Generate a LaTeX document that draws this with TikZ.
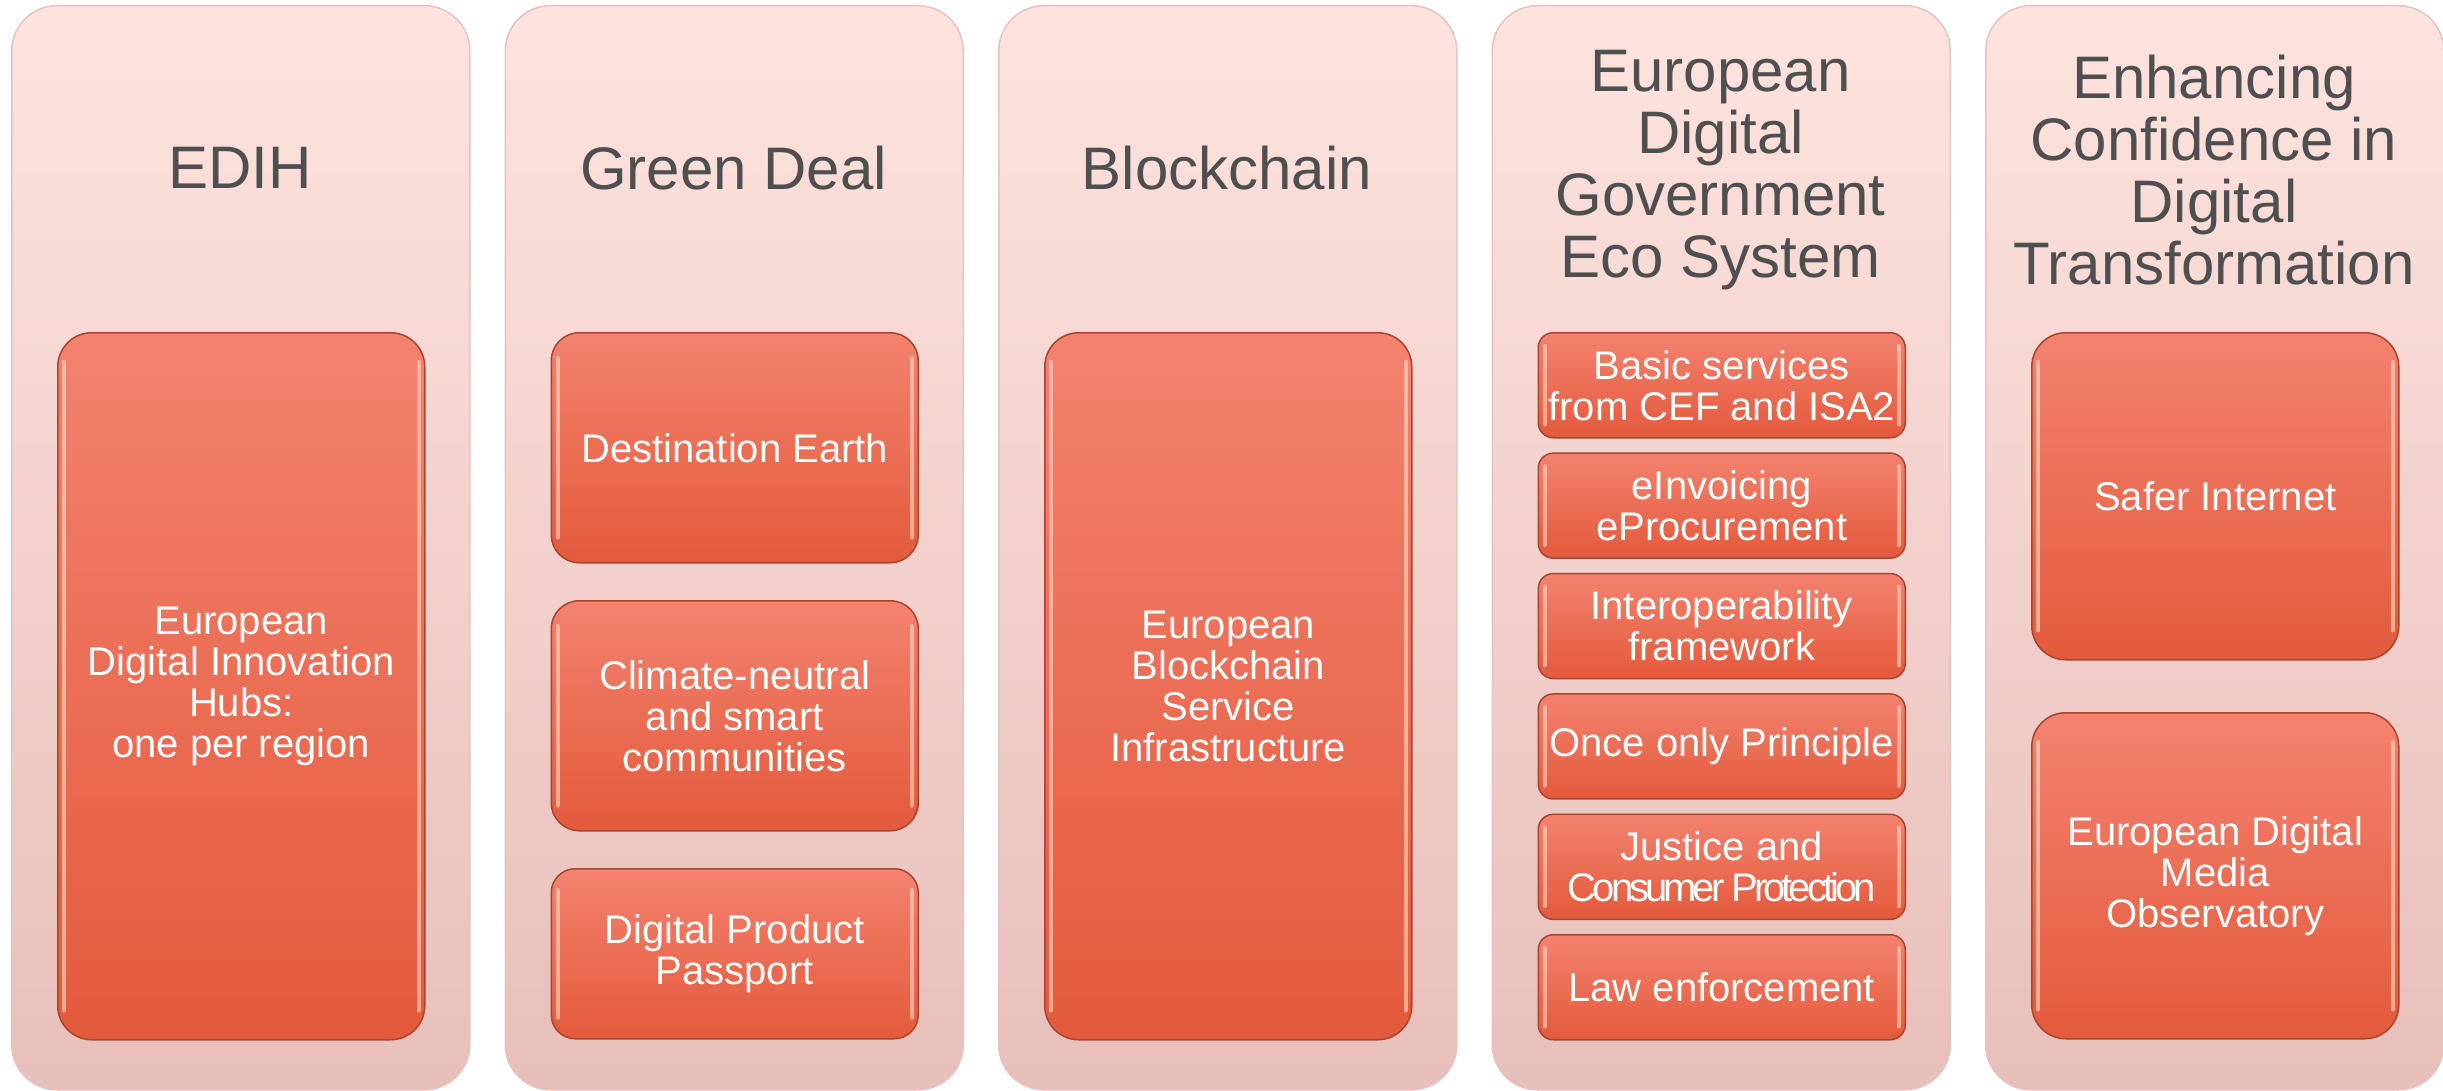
\documentclass[tikz,border=0pt]{standalone}
\usepackage{fontspec}
\setmainfont{Liberation Sans}
\definecolor{colTop}{HTML}{FDE3DF}
\definecolor{colMid}{HTML}{F8D6D1}
\definecolor{colBot}{HTML}{E8BFBA}
\definecolor{colEdge}{HTML}{E6C3BE}
\definecolor{itemTop}{HTML}{F3826F}
\definecolor{itemMid}{HTML}{F56F54}
\definecolor{itemBot}{HTML}{E35A3C}
\definecolor{itemEdge}{HTML}{A9452F}
\definecolor{itemHi}{HTML}{FFDCC8}
\definecolor{titleGray}{HTML}{4F4F4F}
\tikzset{
  colbox/.style={rounded corners=45pt, top color=colTop, middle color=colMid, bottom color=colBot,
    draw=colEdge, line width=1.5pt, minimum width=458pt, minimum height=1084pt,
    anchor=north west, inner sep=0pt},
  ttl/.style={text=titleGray, font=\fontsize{60}{62}\selectfont, align=center, inner sep=0pt},
  item/.style={top color=itemTop, middle color=itemMid, bottom color=itemBot, draw=itemEdge,
    line width=1.5pt, text=white, font=\fontsize{40}{41}\selectfont, align=center,
    anchor=north west, inner sep=0pt, minimum width=367pt},
  hilite/.style={draw=itemHi, draw opacity=0.6, line width=4pt, line cap=round}
}
\begin{document}
\begin{tikzpicture}[x=1pt,y=-1pt]
\useasboundingbox (0,0) rectangle (2443,1091);
% columns
\node[colbox] (c1) at (11,5) {};
\node[colbox] (c2) at (504.5,5) {};
\node[colbox] (c3) at (998,5) {};
\node[colbox] (c4) at (1491.5,5) {};
\node[colbox] (c5) at (1985,5) {};
% titles
\node[ttl] (t1) at (240,168) {EDIH};
\node[ttl] (t2) at (733.5,168) {Green Deal};
\node[ttl] (t3) at (1227,168) {Blockchain};
\node[ttl] (t4) at (1720.5,170) {European\\Digital\\Government\\Eco System};
\node[ttl] (t5) at (2214,170) {Enhancing\\Confidence in\\Digital\\Transformation};
% column 1
\node[item, rounded corners=34pt, minimum height=707pt] (a1) at (57,332)
  {European\\Digital Innovation\\Hubs:\\one per region};
% column 2
\node[item, rounded corners=28pt, minimum height=230pt] (b1) at (550.5,332) {Destination Earth};
\node[item, rounded corners=28pt, minimum height=230pt] (b2) at (550.5,600) {Climate-neutral\\and smart\\communities};
\node[item, rounded corners=24pt, minimum height=170pt] (b3) at (550.5,868) {Digital Product\\Passport};
% column 3
\node[item, rounded corners=34pt, minimum height=707pt] (d1) at (1044,332)
  {European\\Blockchain\\Service\\Infrastructure};
% column 4
\node[item, rounded corners=15pt, minimum height=105pt] (e1) at (1537.5,332) {Basic services\\from CEF and ISA2};
\node[item, rounded corners=15pt, minimum height=105pt] (e2) at (1537.5,452.4) {eInvoicing\\eProcurement};
\node[item, rounded corners=15pt, minimum height=105pt] (e3) at (1537.5,572.8) {Interoperability\\framework};
\node[item, rounded corners=15pt, minimum height=105pt] (e4) at (1537.5,693.2) {Once only Principle};
\node[item, rounded corners=15pt, minimum height=105pt] (e5) at (1537.5,813.6)
  {Justice and\\{\addfontfeature{LetterSpace=-10}Consumer Protection}};
\node[item, rounded corners=15pt, minimum height=105pt] (e6) at (1537.5,934) {Law enforcement};
% column 5
\node[item, rounded corners=34pt, minimum height=327pt] (f1) at (2031,332) {Safer Internet};
\node[item, rounded corners=34pt, minimum height=326pt] (f2) at (2031,712) {European Digital\\Media\\Observatory};
% bevel highlights on the side edges
\foreach \n/\r in {a1/30,b1/26,b2/26,b3/22,d1/30,e1/14,e2/14,e3/14,e4/14,e5/14,e6/14,f1/30,f2/30}{
  \draw[hilite] ([xshift=7pt,yshift=-\r pt]\n.north west) -- ([xshift=7pt,yshift=\r pt]\n.south west);
  \draw[hilite] ([xshift=-7pt,yshift=-\r pt]\n.north east) -- ([xshift=-7pt,yshift=\r pt]\n.south east);
}
\end{tikzpicture}
\end{document}
